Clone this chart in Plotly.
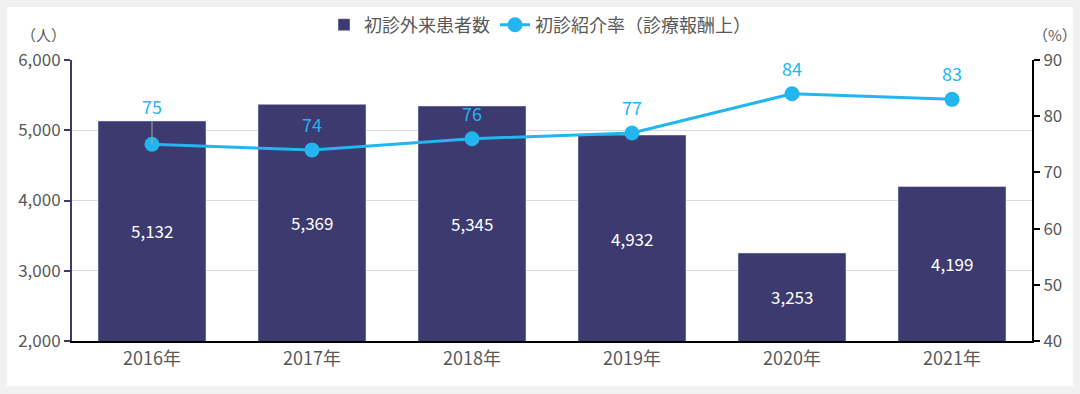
import plotly.graph_objects as go

years = ["2016年", "2017年", "2018年", "2019年", "2020年", "2021年"]
patients = [5132, 5369, 5345, 4932, 3253, 4199]
rate = [75, 74, 76, 77, 84, 83]

bar_name = "初診外来患者数"
line_name = "初診紹介率（診療報酬上）"

NAVY = "#3c3a6e"
BLUE = "#22b5f0"
TXT = "#595959"
FONT = "Noto Sans CJK JP"
Y_MIN, Y_MAX = 2000, 6000

fig = go.Figure()
fig.add_trace(go.Bar(
    x=years, y=patients, name=bar_name, marker_color=NAVY,
))
fig.add_trace(go.Scatter(
    x=years, y=rate, name=line_name, yaxis="y2", mode="lines+markers",
    line=dict(color=BLUE, width=3), marker=dict(color=BLUE, size=15),
))

annotations = []
# bar value labels, centred in the visible part of each bar
for yr, v in zip(years, patients):
    annotations.append(dict(x=yr, y=(v + Y_MIN) / 2, xref="x", yref="y",
                            text=f"{v:,}", showarrow=False,
                            font=dict(color="white", size=17, family=FONT)))
for i, (yr, r) in enumerate(zip(years, rate)):
    if i == 0:
        annotations.append(dict(x=yr, y=r, xref="x", yref="y2", text=str(r),
                                showarrow=True, arrowhead=0, arrowwidth=1,
                                arrowcolor="#a6a6a6", ax=0, ay=-38, standoff=0,
                                font=dict(color=BLUE, size=18, family=FONT)))
    else:
        annotations.append(dict(x=yr, y=r, xref="x", yref="y2", text=str(r),
                                showarrow=False, yshift=26,
                                font=dict(color=BLUE, size=18, family=FONT)))
annotations.append(dict(x=-0.030, y=1.09, xref="paper", yref="paper", text="（人）",
                        xanchor="center", yanchor="middle",
                        showarrow=False, font=dict(color=TXT, size=15, family=FONT)))
annotations.append(dict(x=1.024, y=1.09, xref="paper", yref="paper", text="（%）",
                        xanchor="center", yanchor="middle",
                        showarrow=False, font=dict(color=TXT, size=15, family=FONT)))

fig.update_layout(
    width=1080, height=394,
    margin=dict(l=72, r=48, t=60, b=53, autoexpand=False),
    paper_bgcolor="#f1f1f1", plot_bgcolor="rgba(0,0,0,0)",
    font=dict(family=FONT, color=TXT, size=17),
    bargap=0.325,
    showlegend=True,
    legend=dict(orientation="h", x=0.4875, xanchor="center", y=1.1246, yanchor="middle",
                font=dict(size=18, color=TXT, family=FONT), bgcolor="rgba(0,0,0,0)",
                itemwidth=30),
    xaxis=dict(showline=True, linecolor="black", linewidth=2, ticks="",
               tickfont=dict(size=18, color=TXT), showgrid=False),
    yaxis=dict(range=[Y_MIN, Y_MAX], dtick=1000, tickformat=",", showgrid=True,
               gridcolor="#d9d9d9", gridwidth=1, showline=True, linecolor=NAVY,
               linewidth=2, ticks="outside", tickcolor=NAVY, ticklen=6, tickwidth=2,
               tickfont=dict(size=17, color=TXT), zeroline=False),
    yaxis2=dict(range=[40, 90], dtick=10, overlaying="y", side="right",
                showgrid=False, showline=True, linecolor="black", linewidth=2,
                ticks="outside", tickcolor="black", ticklen=6, tickwidth=2,
                tickfont=dict(size=17, color=TXT), zeroline=False),
    annotations=annotations,
    shapes=[dict(type="rect", xref="paper", yref="paper", x0=-0.0677, x1=1.0427,
                 y0=-0.160, y1=1.1886, fillcolor="white", line=dict(width=0),
                 layer="below")],
)

fig.write_html("out.html", config={"displayModeBar": False},
               post_script="document.body.style.margin='0px';"
                           "document.body.style.overflow='hidden';")
